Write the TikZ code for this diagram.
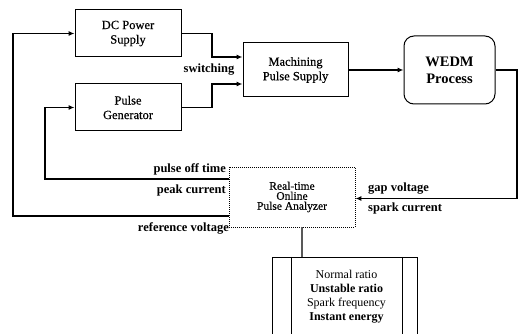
\documentclass[tikz,border=0pt]{standalone}
\usepackage{fontspec}
\setmainfont{Liberation Serif}
\newfontfamily\medfont{Liberation Serif}[FakeBold=0.5]
\usetikzlibrary{arrows.meta}
\begin{document}
\begin{tikzpicture}[x=1pt,y=-1pt,
  blk/.style={draw, line width=1pt, minimum width=106pt, minimum height=47pt, align=center, font=\medfont\fontsize{12.5}{14.5}\selectfont, inner sep=0pt},
  lbl/.style={font=\bfseries\fontsize{12.5}{14}\selectfont, inner sep=0pt},
  conn/.style={line width=1.1pt},
  arr/.style={conn, -{Latex[length=6pt,width=5pt]}},
]
\useasboundingbox (0,0) rectangle (520,334);
\node[blk] (dc) at (128,33.5) {DC Power\\Supply};
\node[blk] (pg) at (128,107.5) {Pulse\\Generator};
\node[blk, minimum width=105pt, minimum height=54pt] (mps) at (295.5,70) {Machining\\Pulse Supply};
\node[blk, rounded corners=10pt, minimum width=91pt, minimum height=68pt, font=\bfseries\fontsize{14.5}{17}\selectfont] (wedm) at (449.5,70) {WEDM\\Process};
\node[draw, dash pattern=on 1pt off 1pt, line width=0.9pt, minimum width=126pt, minimum height=60pt, align=center, inner sep=0pt, font=\medfont\fontsize{11.5}{10}\selectfont] (pa) at (292,197) {Real-time\\Online\\Pulse Analyzer};
\node[align=center, inner sep=0pt, font=\fontsize{12}{14}\selectfont] (res) at (346.5,297) {Normal ratio\\\textbf{Unstable ratio}\\Spark frequency\\\textbf{Instant energy}};
\coordinate (restop) at (302,257);
\draw[line width=0.8pt] (272,334) -- (272,257) -- (417,257) -- (417,334);
\draw[line width=0.8pt] (291,257) -- (291,334);
\draw[line width=0.8pt] (402,257) -- (402,334);
% connectors
\draw[arr] (dc.east) -- (212,33.5) |- (mps.west |- 0,57);
\draw[arr] (pg.east) -- (212,107.5) |- (mps.west |- 0,84);
\draw[arr] (mps.east) -- (wedm.west);
\draw[arr] (wedm.east) -- (517,70) |- (pa.east |- 0,198.5);
\draw[arr] (pa.west |- 0,179) -- (45,179) |- (pg.west);
\draw[arr] (pa.west |- 0,216) -- (13,216) |- (dc.west);
\draw[line width=1.5pt, gray!70!black] (pa.south -| restop) -- (restop);
% labels
\node[lbl, anchor=east] (lpot) at (226,169) {pulse off time};
\node[lbl, anchor=east] (lpc) at (226,190) {peak current};
\node[lbl, anchor=east] (lrv) at (229,228) {reference voltage};
\node[lbl] (lsw) at (209,70) {switching};
\node[lbl, anchor=west] (lgv) at (368,189) {gap voltage};
\node[lbl, anchor=west] (lsc) at (368,208) {spark current};
\end{tikzpicture}
\end{document}
